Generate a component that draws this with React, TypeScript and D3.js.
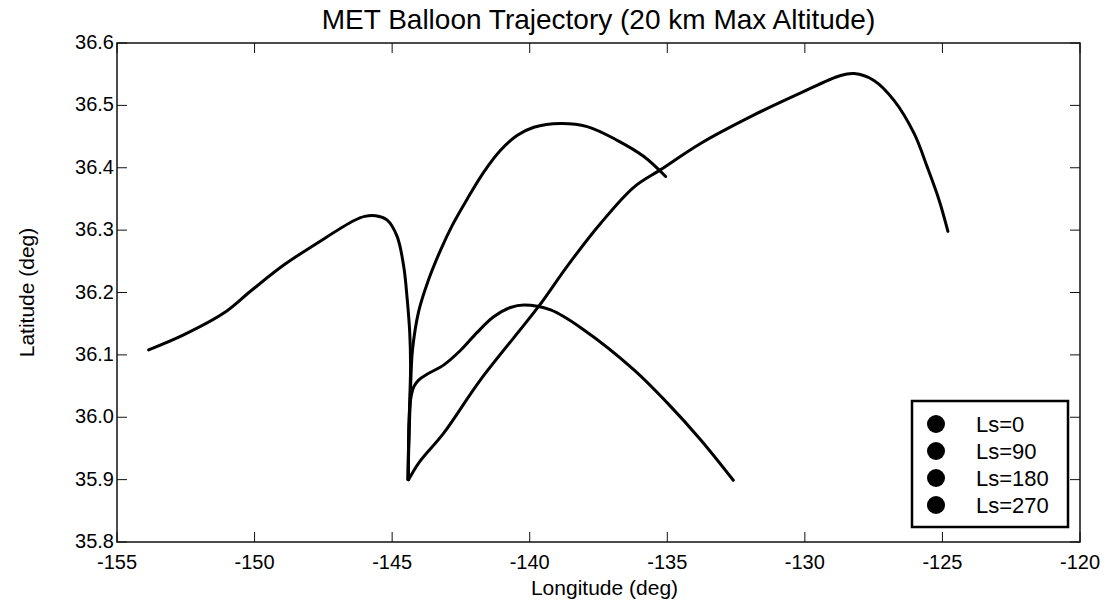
import React from "react";
import * as d3 from "d3";

const TITLE = "MET Balloon Trajectory (20 km Max Altitude)";
const X_LABEL = "Longitude (deg)";
const Y_LABEL = "Latitude (deg)";

const xTicks = [-155, -150, -145, -140, -135, -130, -125, -120];
const yTicks = [35.8, 35.9, 36.0, 36.1, 36.2, 36.3, 36.4, 36.5, 36.6];
const legendLabels = ["Ls=0", "Ls=90", "Ls=180", "Ls=270"];

// [longitude, latitude]
const seriesLs0: [number, number][] = [
  [-144.42, 35.9], [-144.4, 35.964], [-144.36, 36.028], [-144.33, 36.082],
  [-144.36, 36.135], [-144.45, 36.188], [-144.58, 36.242], [-144.82, 36.29],
  [-145.18, 36.316], [-145.6, 36.323], [-146.0, 36.322], [-146.4, 36.315],
  [-147.73, 36.279], [-148.94, 36.244], [-150.15, 36.202], [-151.12, 36.167],
  [-152.58, 36.132], [-153.85, 36.108],
];
const seriesLs90: [number, number][] = [
  [-144.4, 35.9], [-144.03, 35.927], [-143.12, 35.975], [-141.79, 36.06],
  [-139.67, 36.178], [-138.64, 36.242], [-137.42, 36.311], [-136.21, 36.369],
  [-135.24, 36.397], [-133.79, 36.439], [-131.97, 36.482], [-130.15, 36.52],
  [-128.7, 36.548], [-128.21, 36.551], [-127.49, 36.54], [-126.76, 36.508],
  [-126.03, 36.455], [-125.55, 36.401], [-125.12, 36.348], [-124.8, 36.298],
];
const seriesLs180: [number, number][] = [
  [-144.42, 35.9], [-144.4, 35.96], [-144.34, 36.025], [-144.21, 36.049],
  [-144.03, 36.06], [-143.73, 36.069], [-143.12, 36.084], [-142.52, 36.107],
  [-141.91, 36.136], [-141.31, 36.161], [-140.7, 36.176], [-140.21, 36.18],
  [-139.24, 36.172], [-138.03, 36.14], [-136.21, 36.076], [-135.0, 36.023],
  [-133.79, 35.964], [-132.6, 35.899],
];
const seriesLs270: [number, number][] = [
  [-144.42, 35.9], [-144.38, 35.98], [-144.34, 36.03], [-144.32, 36.06],
  [-144.26, 36.108], [-144.04, 36.169], [-143.68, 36.22], [-143.24, 36.268],
  [-142.81, 36.308], [-142.27, 36.35], [-141.67, 36.393], [-141.06, 36.428],
  [-140.45, 36.452], [-139.85, 36.465], [-138.88, 36.471], [-137.91, 36.466],
  [-136.82, 36.444], [-135.85, 36.418], [-135.06, 36.386],
];

const allSeries = [seriesLs0, seriesLs90, seriesLs180, seriesLs270];

export default function App() {
  const W = 1113, H = 603;
  const left = 117, right = 1080, top = 43, bottom = 542;
  const x = d3.scaleLinear().domain([-155, -120]).range([left, right]);
  const y = d3.scaleLinear().domain([35.8, 36.6]).range([bottom, top]);
  const line = d3
    .line<[number, number]>()
    .x((d) => x(d[0]))
    .y((d) => y(d[1]))
    .curve(d3.curveCatmullRom.alpha(0.5));
  const font = "'Liberation Sans', Arial, Helvetica, sans-serif";
  const tickLen = 10;

  const legX = 912, legY = 401, legW = 156, legH = 126;

  return (
    <svg
      width={W}
      height={H}
      style={{ position: "absolute", left: 0, top: 0, background: "#fff" }}
      fontFamily={font}
    >
      <rect x={0} y={0} width={W} height={H} fill="#fff" />
      {allSeries.map((s, i) => (
        <path
          key={i}
          d={line(s) || ""}
          fill="none"
          stroke="#000"
          strokeWidth={3}
          strokeLinejoin="round"
          strokeLinecap="round"
        />
      ))}
      <rect
        x={left}
        y={top}
        width={right - left}
        height={bottom - top}
        fill="none"
        stroke="#111"
        strokeWidth={1.5}
      />
      {xTicks.map((t) => (
        <g key={"x" + t}>
          <line x1={x(t)} x2={x(t)} y1={bottom} y2={bottom - tickLen} stroke="#111" strokeWidth={1} />
          <line x1={x(t)} x2={x(t)} y1={top} y2={top + tickLen} stroke="#111" strokeWidth={1} />
          <text x={x(t)} y={bottom + 27} fontSize={20} textAnchor="middle" fill="#000">
            {String(t)}
          </text>
        </g>
      ))}
      {yTicks.map((t) => (
        <g key={"y" + t}>
          <line x1={left} x2={left + tickLen} y1={y(t)} y2={y(t)} stroke="#111" strokeWidth={1} />
          <line x1={right} x2={right - tickLen} y1={y(t)} y2={y(t)} stroke="#111" strokeWidth={1} />
          <text x={left - 3} y={y(t) + 6} fontSize={20} textAnchor="end" fill="#000">
            {t.toFixed(1)}
          </text>
        </g>
      ))}
      <text x={(left + right) / 2} y={29} fontSize={28} textAnchor="middle" fill="#000">
        {TITLE}
      </text>
      <text x={(left + right) / 2 + 6} y={595} fontSize={21} textAnchor="middle" fill="#000">
        {X_LABEL}
      </text>
      <text
        transform={`translate(34, ${(top + bottom) / 2}) rotate(-90)`}
        fontSize={21}
        textAnchor="middle"
        fill="#000"
      >
        {Y_LABEL}
      </text>
      <rect x={legX} y={legY} width={legW} height={legH} fill="#fff" stroke="#000" strokeWidth={2.5} />
      {legendLabels.map((lab, i) => (
        <g key={lab}>
          <circle cx={legX + 24} cy={legY + 23 + i * 27} r={9} fill="#000" />
          <text x={legX + 64} y={legY + 31 + i * 27} fontSize={22} fill="#000">
            {lab}
          </text>
        </g>
      ))}
    </svg>
  );
}
